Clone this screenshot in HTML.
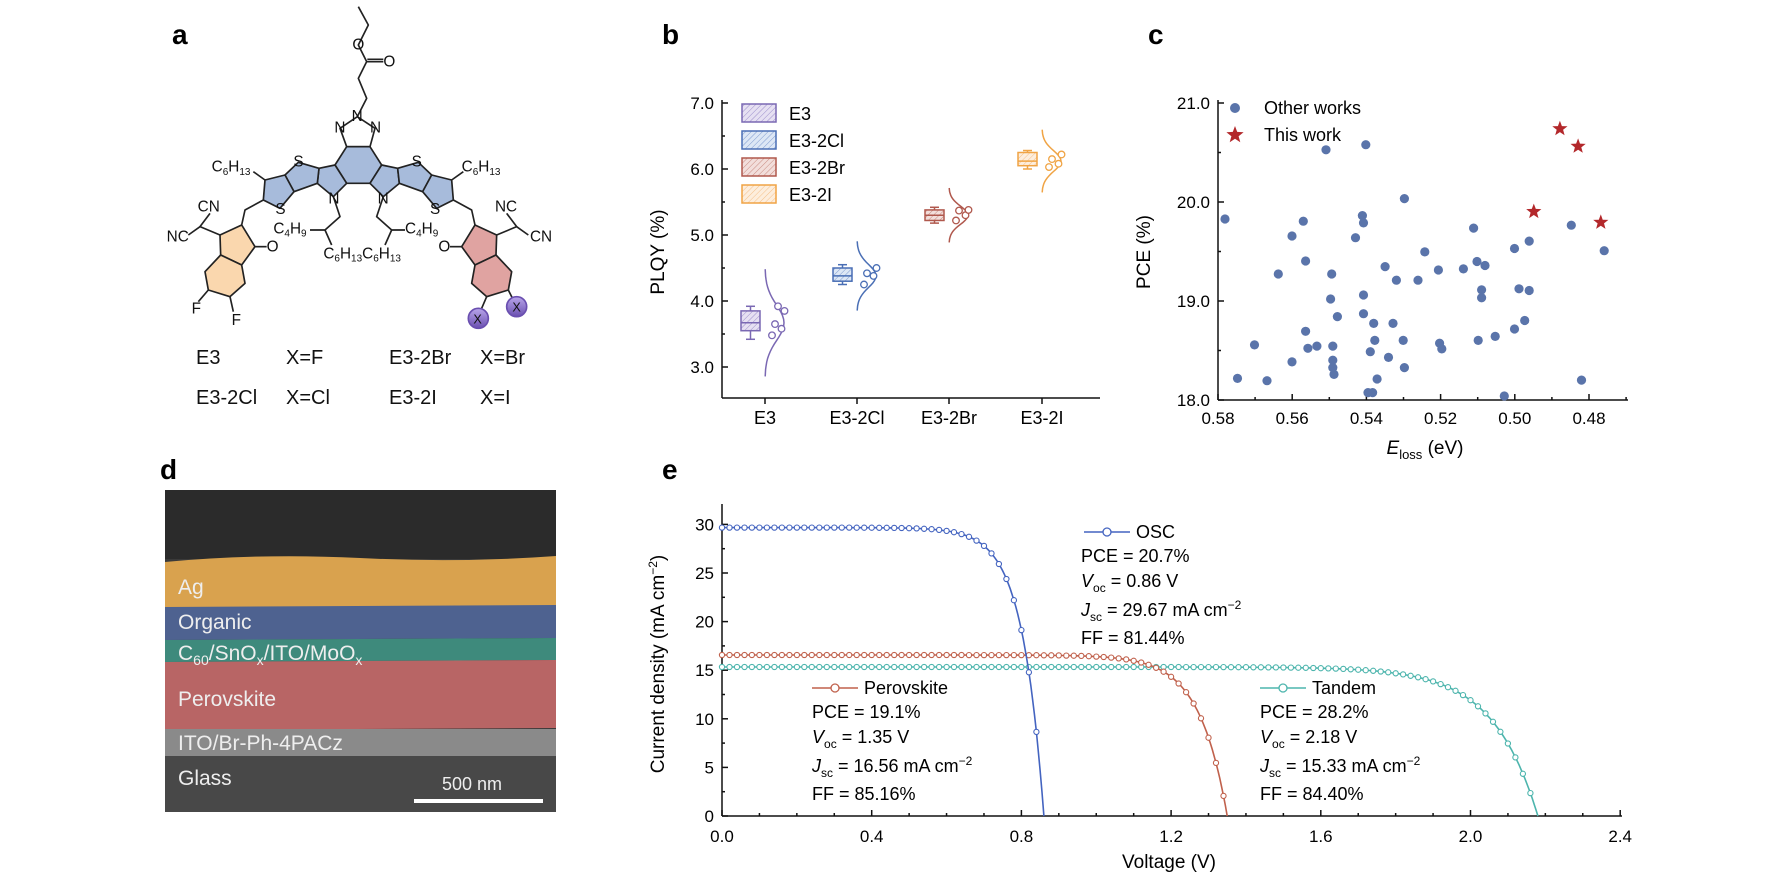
<!DOCTYPE html>
<html><head><meta charset="utf-8">
<style>
html,body{margin:0;padding:0;background:#fff;}
svg{display:block;font-family:"Liberation Sans",Arial,sans-serif;}
</style></head>
<body>
<svg id="s" width="1771" height="885" viewBox="0 0 1771 885" xmlns="http://www.w3.org/2000/svg">
<defs>
<pattern id="hp" width="4" height="4" patternUnits="userSpaceOnUse" patternTransform="rotate(45)"><rect width="4" height="4" fill="#e6e0f2"/><line x1="0" y1="0" x2="0" y2="4" stroke="#9d8fcc" stroke-width="1"/></pattern>
<pattern id="hb" width="4" height="4" patternUnits="userSpaceOnUse" patternTransform="rotate(45)"><rect width="4" height="4" fill="#dde7f5"/><line x1="0" y1="0" x2="0" y2="4" stroke="#7e9bd0" stroke-width="1"/></pattern>
<pattern id="hr" width="4" height="4" patternUnits="userSpaceOnUse" patternTransform="rotate(45)"><rect width="4" height="4" fill="#f2dedb"/><line x1="0" y1="0" x2="0" y2="4" stroke="#c88a80" stroke-width="1"/></pattern>
<pattern id="ho" width="4" height="4" patternUnits="userSpaceOnUse" patternTransform="rotate(45)"><rect width="4" height="4" fill="#fdeedd"/><line x1="0" y1="0" x2="0" y2="4" stroke="#f5c08a" stroke-width="1"/></pattern>
<linearGradient id="gs" x1="0" y1="0" x2="0" y2="1"><stop offset="0" stop-color="#b9a6ea"/><stop offset="1" stop-color="#6a4fb0"/></linearGradient>
</defs>

<!-- panel letters -->
<g font-weight="bold" font-size="28" fill="#000">
<text x="172" y="44">a</text><text x="662" y="44">b</text><text x="1148" y="44">c</text>
<text x="160" y="479">d</text><text x="662" y="479">e</text>
</g>

<!-- panel a molecule (zoom coordinates scaled) -->
<g transform="translate(120,0) scale(0.33333)" stroke="#222" stroke-width="5" fill="none" stroke-linejoin="round">
<g fill="#a7bbdb">
<polygon points="680,440 750,440 785,495 750,550 680,550 645,495"/>
<polygon points="645,495 680,550 640,590 592,550 597,505"/>
<polygon points="597,505 592,550 522,575 495,525 535,487"/>
<polygon points="495,525 522,575 480,625 430,600 435,540"/>
<polygon points="785,495 750,550 790,590 838,550 833,505"/>
<polygon points="833,505 838,550 908,575 935,525 895,487"/>
<polygon points="935,525 908,575 950,625 1000,600 995,540"/>
</g>
<polygon points="680,440 750,440 765,385 712,350 660,385"/>
<polygon fill="#fad7ae" points="300,705 365,675 405,740 365,795 302,765"/>
<polygon fill="#fad7ae" points="302,765 365,795 375,850 330,890 265,870 255,815"/>
<polygon fill="#e0a3a1" points="1130,705 1065,675 1025,740 1065,795 1128,765"/>
<polygon fill="#e0a3a1" points="1128,765 1065,795 1055,850 1100,890 1165,870 1175,815"/>
<polyline points="712,350 740,295 715,235 740,185 715,135 745,75 715,20"/>
<line x1="740" y1="185" x2="790" y2="185"/><line x1="742" y1="178" x2="790" y2="178"/>
<polyline points="430,600 375,630 365,675"/>
<polyline points="1000,600 1055,630 1065,675"/>
<polyline points="300,705 240,680 270,640"/><line x1="240" y1="680" x2="205" y2="705"/>
<polyline points="1130,705 1190,680 1160,640"/><line x1="1190" y1="680" x2="1225" y2="705"/>
<line x1="405" y1="740" x2="440" y2="740"/><line x1="1025" y1="740" x2="990" y2="740"/>
<line x1="265" y1="870" x2="235" y2="905"/><line x1="330" y1="890" x2="340" y2="935"/>
<line x1="1165" y1="870" x2="1180" y2="900"/><line x1="1100" y1="890" x2="1085" y2="925"/>
<polyline points="435,540 400,515"/><polyline points="995,540 1030,515"/>
<polyline points="640,590 660,650 615,690 570,690"/><line x1="615" y1="690" x2="635" y2="735"/>
<polyline points="790,590 770,650 815,690 855,690"/><line x1="815" y1="690" x2="795" y2="735"/>
<circle cx="1075" cy="955" r="30" fill="url(#gs)" stroke="#6a4fb0"/>
<circle cx="1190" cy="920" r="30" fill="url(#gs)" stroke="#6a4fb0"/>
<g stroke="none" fill="#111" font-size="46">
<text x="695" y="363">N</text><text x="643" y="398">N</text><text x="750" y="398">N</text>
<text x="790" y="200">O</text><text x="697" y="148">O</text>
<text x="520" y="500">S</text><text x="466" y="642">S</text><text x="875" y="500">S</text><text x="930" y="642">S</text>
<text x="625" y="610">N</text><text x="773" y="610">N</text>
<text x="275" y="515">C<tspan font-size="30" dy="10">6</tspan><tspan dy="-10">H</tspan><tspan font-size="30" dy="10">13</tspan></text>
<text x="1025" y="515">C<tspan font-size="30" dy="10">6</tspan><tspan dy="-10">H</tspan><tspan font-size="30" dy="10">13</tspan></text>
<text x="460" y="700">C<tspan font-size="30" dy="10">4</tspan><tspan dy="-10">H</tspan><tspan font-size="30" dy="10">9</tspan></text>
<text x="855" y="700">C<tspan font-size="30" dy="10">4</tspan><tspan dy="-10">H</tspan><tspan font-size="30" dy="10">9</tspan></text>
<text x="610" y="775">C<tspan font-size="30" dy="10">6</tspan><tspan dy="-10">H</tspan><tspan font-size="30" dy="10">13</tspan><tspan dy="-10">C</tspan><tspan font-size="30" dy="10">6</tspan><tspan dy="-10">H</tspan><tspan font-size="30" dy="10">13</tspan></text>
<text x="233" y="635">CN</text><text x="140" y="725">NC</text>
<text x="1125" y="635">NC</text><text x="1230" y="725">CN</text>
<text x="440" y="755">O</text><text x="955" y="755">O</text>
<text x="215" y="940">F</text><text x="335" y="975">F</text>
<text x="1060" y="970" font-size="38">X</text><text x="1177" y="935" font-size="38">X</text>
</g>
</g>
<g font-size="20" fill="#111">
<text x="196" y="364">E3</text><text x="286" y="364">X=F</text><text x="389" y="364">E3-2Br</text><text x="480" y="364">X=Br</text>
<text x="196" y="404">E3-2Cl</text><text x="286" y="404">X=Cl</text><text x="389" y="404">E3-2I</text><text x="480" y="404">X=I</text>
</g>

<g id="gen"></g>
</svg>
<script>
var NS="http://www.w3.org/2000/svg",g=document.getElementById("gen"),h="";
function L(x1,y1,x2,y2,c,w){h+='<line x1="'+x1+'" y1="'+y1+'" x2="'+x2+'" y2="'+y2+'" stroke="'+(c||"#111")+'" stroke-width="'+(w||1.5)+'"/>';}
function T(x,y,s,fs,a,extra){h+='<text x="'+x+'" y="'+y+'" font-size="'+(fs||17)+'" text-anchor="'+(a||"start")+'" '+(extra||"")+'>'+s+'</text>';}
// ---------- panel b ----------
var bx=722,by0=398;
function yb(v){return 367-(v-3)*66;}
L(bx,100,bx,by0);L(bx,by0,1100,by0);
for(var v=3;v<=7;v+=0.5){var y=yb(v);L(bx,y,bx+(v%1==0?6:3),y);if(v%1==0)T(bx-8,y+6,v.toFixed(1),17,"end");}
var cats=["E3","E3-2Cl","E3-2Br","E3-2I"],tx=[765,857,949,1042],cols=["#7a68b3","#4a6fb5","#b0584d","#f0a445"],pats=["hp","hb","hr","ho"];
var med=[3.67,4.38,5.3,6.12],box=[[3.55,3.85],[4.3,4.5],[5.22,5.38],[6.05,6.25]],wh=[[3.42,3.92],[4.25,4.55],[5.18,5.42],[6.0,6.28]],sp=[0.65,0.42,0.33,0.38];
var pts=[[3.48,3.58,3.65,3.85,3.92],[4.25,4.38,4.42,4.5],[5.22,5.3,5.37,5.38],[6.03,6.08,6.15,6.22]];
for(var i=0;i<4;i++){var c=cols[i],x=tx[i];L(x,by0,x,by0+6);T(x,424,cats[i],18,"middle");
 var bl=x-24,bw=19;
 L(bl+bw/2,yb(wh[i][0]),bl+bw/2,yb(wh[i][1]),c,1.5);L(bl+5,yb(wh[i][0]),bl+bw-5,yb(wh[i][0]),c);L(bl+5,yb(wh[i][1]),bl+bw-5,yb(wh[i][1]),c);
 h+='<rect x="'+bl+'" y="'+yb(box[i][1])+'" width="'+bw+'" height="'+(yb(box[i][0])-yb(box[i][1]))+'" fill="url(#'+pats[i]+')" stroke="'+c+'" stroke-width="1.5"/>';
 L(bl,yb(med[i]),bl+bw,yb(med[i]),c);
 var d="",s=sp[i]*66/2.4;for(var k=-3;k<=3.01;k+=0.2){var yy=yb(med[i])+k*s;var xx=x+19*Math.exp(-k*k/2);d+=(d?"L":"M")+xx.toFixed(1)+","+yy.toFixed(1);}
 h+='<path d="'+d+'" fill="none" stroke="'+c+'" stroke-width="1.5"/>';
 for(var j=0;j<pts[i].length;j++){var pv=pts[i][j];h+='<circle cx="'+(x+3+ (j%2?12:4)+j*1.5)+'" cy="'+yb(pv)+'" r="3.3" fill="#fff" stroke="'+c+'" stroke-width="1.3"/>';}
}
T(664,252,"PLQY (%)",19,"middle",'transform="rotate(-90 664 252)"');
for(var i=0;i<4;i++){var y=104+i*27;h+='<rect x="742" y="'+y+'" width="34" height="18" fill="url(#'+pats[i]+')" stroke="'+cols[i]+'" stroke-width="1.5"/>';T(789,y+16,cats[i],18);}
// ---------- panel c ----------
var cx0=1218;function xc(e){return 1218+(0.58-e)/0.02*74.2;}function yc(p){return 400-(p-18)*99;}
L(cx0,100,cx0,400);L(cx0,400,1628,400);
for(var p=18;p<=21.01;p+=0.5){var y=yc(p);L(cx0,y,cx0+(Math.round(p*2)%2==0?6:3),y);if(Math.abs(p-Math.round(p))<0.01)T(cx0-8,y+6,p.toFixed(1),17,"end");}
for(var e=0.58;e>=0.469;e-=0.01){var x=xc(e);var maj=Math.round(e*100)%2==0;L(x,400,x,400-(maj?6:3));if(maj)T(x,424,e.toFixed(2),17,"middle");}
var P=[[1079,386],[1090,667],[1105,608],[1116,671],[1126,483],[1138,638],[1138,416],[1148,390],[1150,584],[1150,460],[1152,614],[1160,610],[1168,264],[1172,527],[1173,483],[1174,610],[1174,635],[1174,648],[1175,660],[1178,558],[1194,419],[1200,380],[1201,393],[1201,520],[1201,553],[1203,255],[1205,692],[1209,692],[1207,620],[1210,570],[1211,600],[1213,668],[1220,470],[1223,630],[1227,570],[1230,494],[1236,600],[1237,648],[1237,350],[1249,494],[1255,444],[1267,476],[1268,605],[1270,615],[1289,474],[1298,402],[1301,461],[1302,600],[1305,511],[1305,525],[1308,468],[1317,593],[1325,698],[1334,438],[1334,580],[1338,509],[1343,565],[1347,425],[1347,512],[1384,397],[1393,670],[1413,442]];
for(var i=0;i<P.length;i++)h+='<circle cx="'+(P[i][0]*1.1353).toFixed(1)+'" cy="'+(P[i][1]*0.5673).toFixed(1)+'" r="4.6" fill="#5a74aa"/>';
function star(x,y,r,c){var d="";for(var k=0;k<10;k++){var a=-Math.PI/2+k*Math.PI/5,rr=k%2?r*0.42:r;d+=(k?"L":"M")+(x+rr*Math.cos(a)).toFixed(1)+","+(y+rr*Math.sin(a)).toFixed(1);}h+='<path d="'+d+'Z" fill="'+c+'"/>';}
var S=[[1374,227],[1390,258],[1351,373],[1410,392]];for(var i=0;i<4;i++)star(S[i][0]*1.1353,S[i][1]*0.5673,8,"#b3282b");
h+='<circle cx="1235" cy="108" r="5" fill="#5a74aa"/>';star(1235,135,9,"#b3282b");
T(1264,114,"Other works",18);T(1264,141,"This work",18);
T(1150,252,"PCE (%)",19,"middle",'transform="rotate(-90 1150 252)"');
h+='<text x="1425" y="454" font-size="19" text-anchor="middle"><tspan font-style="italic">E</tspan><tspan font-size="13" dy="5">loss</tspan><tspan dy="-5"> (eV)</tspan></text>';
// ---------- panel e ----------
function xe(v){return 722+v/0.4*149.7;}function ye(j){return 816-j/5*48.6;}
L(722,504,722,816);L(722,816,1622,816);
for(var j=0;j<=30;j+=2.5){var y=ye(j);L(722,y,722+(j%5==0?6:3),y);if(j%5==0)T(714,y+6,j,17,"end");}
for(var v=0;v<=2.401;v+=0.1){var x=xe(v);var k=Math.round(v*10);L(x,816,x,816-(k%4==0?6:3));if(k%4==0)T(x,842,v.toFixed(1),17,"middle");}
T(664,664,"Current density (mA cm<tspan font-size=\"12\" dy=\"-7\">−2</tspan><tspan dy=\"7\">)</tspan>",19,"middle",'transform="rotate(-90 664 664)"');
T(1169,868,"Voltage (V)",19,"middle");
function curve(js,voc,a,c,step){var d="",m="";var n=1-Math.exp(-voc/a);for(var v=0;v<=voc+0.0001;v+=0.005){var j=js*(1-Math.exp((v-voc)/a))/n;d+=(d?"L":"M")+xe(v).toFixed(1)+","+ye(j).toFixed(1);}
 var j0=0;d+="L"+xe(voc).toFixed(1)+","+ye(0).toFixed(1);
 h+='<path d="'+d+'" fill="none" stroke="'+c+'" stroke-width="1.6"/>';
 for(var v=0;v<=voc+0.0001;v+=step){var j=js*(1-Math.exp((v-voc)/a))/n;if(j<0)break;m+='<circle cx="'+xe(v).toFixed(1)+'" cy="'+ye(j).toFixed(1)+'" r="2.6" fill="#fff" stroke="'+c+'" stroke-width="1.1"/>';}
 h+=m;}
curve(15.33,2.18,0.12,"#4db5ad",0.02);
curve(16.56,1.35,0.075,"#c0614c",0.02);
curve(29.67,0.86,0.058,"#4464c0",0.02);
function leg(x,y,c,name){L(x,y,x+46,y,c,1.6);h+='<circle cx="'+(x+23)+'" cy="'+y+'" r="4" fill="#fff" stroke="'+c+'" stroke-width="1.3"/>';T(x+52,y+6,name,18);}
leg(1084,532,"#4464c0","OSC");leg(812,688,"#c0614c","Perovskite");leg(1260,688,"#4db5ad","Tandem");
function block(x,y,a,b,cc,d){T(x,y,a,18);h+='<text x="'+x+'" y="'+(y+25)+'" font-size="18"><tspan font-style="italic">V</tspan><tspan font-size="12" dy="5">oc</tspan><tspan dy="-5">'+b+'</tspan></text>';
 h+='<text x="'+x+'" y="'+(y+54)+'" font-size="18"><tspan font-style="italic">J</tspan><tspan font-size="12" dy="5">sc</tspan><tspan dy="-5">'+cc+'</tspan><tspan font-size="12" dy="-7">−2</tspan></text>';T(x,y+82,d,18);}
block(1081,562,"PCE = 20.7%"," = 0.86 V"," = 29.67 mA cm","FF = 81.44%");
block(812,718,"PCE = 19.1%"," = 1.35 V"," = 16.56 mA cm","FF = 85.16%");
block(1260,718,"PCE = 28.2%"," =  2.18 V"," = 15.33 mA cm","FF = 84.40%");
g.innerHTML=h;
</script>
<!-- panel d (static, drawn after script-safe) -->
<svg width="1771" height="885" style="position:absolute;left:0;top:0;font-family:'Liberation Sans',Arial,sans-serif" viewBox="0 0 1771 885">
<rect x="165" y="490" width="391" height="322" fill="#3a3a3a"/>
<rect x="165" y="490" width="391" height="69" fill="#2b2b2b"/>
<path d="M165,562 Q260,553 360,558 T556,556 L556,607 L165,607Z" fill="#d9a24e"/>
<path d="M165,607 L556,605 L556,638 L165,640Z" fill="#4e6290"/>
<path d="M165,640 L556,638 L556,660 L165,662Z" fill="#3e8a7c"/>
<path d="M165,662 L556,660 L556,728 L165,730Z" fill="#b86565"/>
<rect x="165" y="729" width="391" height="27" fill="#8a8a8a"/>
<rect x="165" y="756" width="391" height="56" fill="#484848"/>
<g fill="#eee" font-size="21">
<text x="178" y="594">Ag</text><text x="178" y="629">Organic</text>
<text x="178" y="660">C<tspan font-size="14" dy="5">60</tspan><tspan dy="-5">/SnO</tspan><tspan font-size="14" dy="5">x</tspan><tspan dy="-5">/ITO/MoO</tspan><tspan font-size="14" dy="5">x</tspan></text>
<text x="178" y="706">Perovskite</text><text x="178" y="750">ITO/Br-Ph-4PACz</text><text x="178" y="785">Glass</text>
<text x="442" y="790" font-size="18">500 nm</text>
</g>
<rect x="414" y="799" width="129" height="4" fill="#fff"/>
</svg>
</body></html>
